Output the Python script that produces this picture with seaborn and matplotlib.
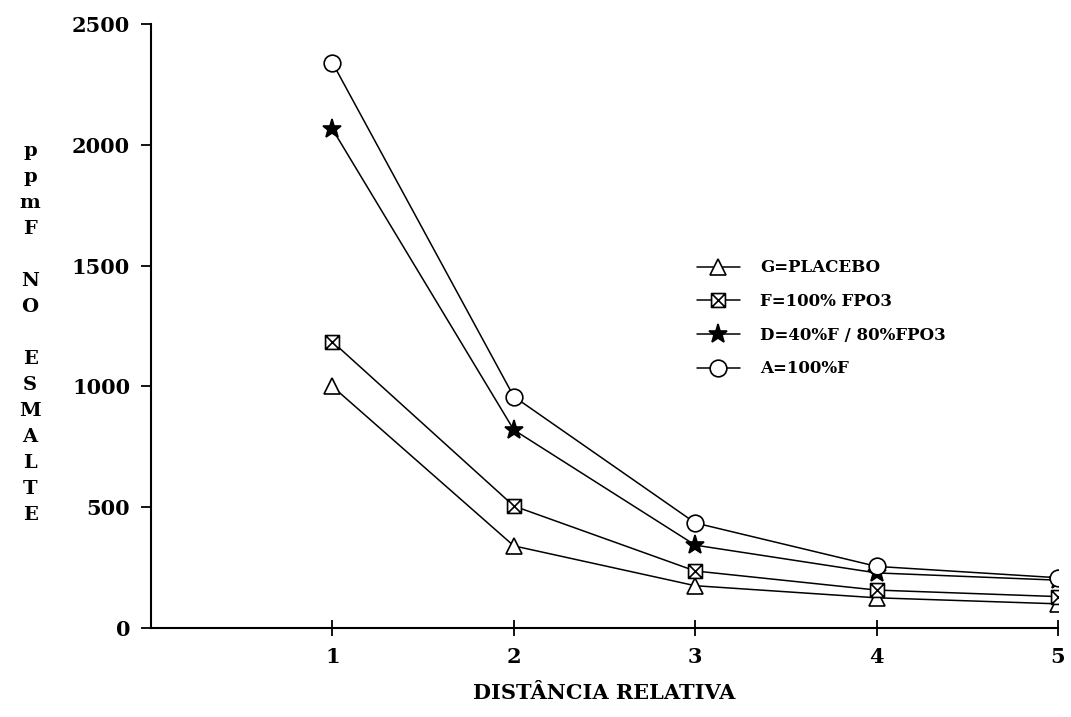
import numpy as np
import pandas as pd
import matplotlib
matplotlib.use("Agg")
import matplotlib.pyplot as plt
from matplotlib.path import Path
import seaborn as sns

# ---- data ----
distancia = [1, 2, 3, 4, 5]
placebo = [1000, 340, 175, 125, 100]        # G
fpo3 = [1185, 505, 236, 157, 130]           # F
mix = [2065, 820, 343, 228, 198]            # D
naf = [2340, 958, 435, 255, 208]            # A
series_labels = ["G=PLACEBO", "F=100% FPO3", "D=40%F / 80%FPO3", "A=100%F"]
y_ticks = [0, 500, 1000, 1500, 2000, 2500]
x_ticks = [1, 2, 3, 4, 5]

sns.set_theme(style="white")
plt.rcParams['font.family'] = ['DejaVu Serif']
plt.rcParams['font.weight'] = 'bold'
plt.rcParams['text.color'] = 'black'
plt.rcParams['axes.labelcolor'] = 'black'
plt.rcParams['xtick.color'] = 'black'
plt.rcParams['ytick.color'] = 'black'

fig = plt.figure(figsize=(10.71, 7.17), dpi=100)
ax = fig.add_axes([151/1071, 1 - 628/717, (1058-151)/1071, (628-24)/717])

# square with X marker
boxx = Path(
    [(-1, -1), (1, -1), (1, 1), (-1, 1), (-1, -1), (-1, -1), (1, 1), (-1, 1), (1, -1)],
    [Path.MOVETO, Path.LINETO, Path.LINETO, Path.LINETO, Path.CLOSEPOLY,
     Path.MOVETO, Path.LINETO, Path.MOVETO, Path.LINETO])

styles = [
    (placebo, series_labels[0], dict(marker='^', ms=11, mfc='white')),
    (fpo3, series_labels[1], dict(marker=boxx, ms=10, mfc='white')),
    (mix, series_labels[2], dict(marker='*', ms=14, mfc='black')),
    (naf, series_labels[3], dict(marker='o', ms=12, mfc='white')),
]
for vals, lab, kw in styles:
    df = pd.DataFrame({"x": distancia, "y": vals})
    sns.lineplot(data=df, x="x", y="y", ax=ax, color='black', lw=1.1,
                 mec='black', mew=1.2, label=lab, **kw)

ax.set_xlim(0, 5)
ax.set_ylim(0, 2500)
ax.set_xticks(x_ticks)
ax.set_yticks(y_ticks)
ax.set_xticklabels([str(t) for t in x_ticks])
ax.set_yticklabels([str(t) for t in y_ticks])
for s in ['top', 'right']:
    ax.spines[s].set_visible(False)
for s in ['left', 'bottom']:
    ax.spines[s].set_color('black')
    ax.spines[s].set_linewidth(1.5)
ax.tick_params(axis='y', direction='out', length=7, width=1.3, colors='black',
               labelsize=15, pad=8, left=True)
ax.tick_params(axis='x', direction='inout', length=12, width=1.3, colors='black',
               labelsize=15, pad=8, bottom=True)
for t in ax.get_xticklabels() + ax.get_yticklabels():
    t.set_fontweight('bold')

ax.set_xlabel("DISTÂNCIA RELATIVA", fontsize=15, fontweight='bold', labelpad=11,
              color='black')
ax.set_ylabel("")

ylab = "\n".join(list("ppmF") + [" "] + list("NO") + [" "] + list("ESMALTE"))
fig.text(30/1071, 1 - 333/717, ylab, ha='center', va='center', color='black',
         multialignment='center', fontsize=14, fontweight='bold', linespacing=1.57)

leg = ax.legend(loc='upper left', bbox_to_anchor=(0.585, 0.635), frameon=False,
                handlelength=2.6, labelspacing=1.0, handletextpad=1.2,
                prop={'weight': 'bold', 'size': 12})
for t in leg.get_texts():
    t.set_color('black')

fig.savefig("out.png", dpi=100)
